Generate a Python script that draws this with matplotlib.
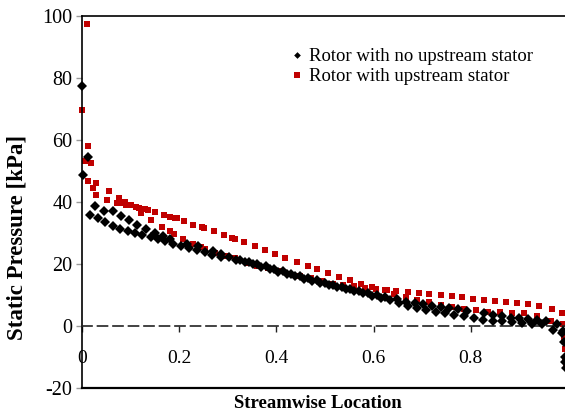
import matplotlib
matplotlib.use("Agg")
import matplotlib.pyplot as plt
from matplotlib.lines import Line2D

plt.rcParams['font.family'] = ['Liberation Serif', 'DejaVu Serif']

# ---- data ----
no_stator_x = [0.000, 0.012, 0.002, 0.016, 0.026, 0.033, 0.046, 0.048, 0.063, 0.063,
               0.080, 0.078, 0.097, 0.095, 0.110, 0.114, 0.124, 0.132, 0.141, 0.150,
               0.156, 0.166, 0.171, 0.182, 0.188, 0.203, 0.216, 0.220, 0.236, 0.239,
               0.253, 0.269, 0.267, 0.285, 0.286, 0.302,
               0.317, 0.335, 0.351, 0.369, 0.387, 0.404, 0.422, 0.438, 0.457, 0.473,
               0.490, 0.508, 0.525, 0.543, 0.560, 0.579, 0.597, 0.615, 0.634,
               0.326, 0.343, 0.360, 0.378, 0.396, 0.413, 0.431, 0.448, 0.466, 0.483,
               0.500, 0.517, 0.534, 0.552, 0.570, 0.588, 0.606, 0.624,
               0.649, 0.667, 0.685, 0.702, 0.721, 0.738, 0.756, 0.774, 0.792, 0.827,
               0.845, 0.864, 0.882, 0.900, 0.918, 0.936, 0.954, 0.977, 0.990,
               0.652, 0.671, 0.690, 0.708, 0.728, 0.747, 0.766, 0.786, 0.807, 0.826,
               0.845, 0.864, 0.885, 0.905, 0.926, 0.947, 0.970,
               0.988, 0.992, 0.993, 0.994, 0.995]
no_stator_y = [77.4, 54.4, 48.7, 35.8, 38.7, 34.7, 37.2, 33.5, 37.0, 32.2,
               35.5, 31.2, 34.2, 30.6, 30.1, 32.7, 29.3, 31.3, 28.6, 30.0,
               28.0, 29.0, 27.4, 28.0, 26.5, 25.8, 26.5, 25.2, 24.6, 25.8,
               23.9, 24.3, 22.9, 23.1, 22.3, 22.2,
               21.3, 20.6, 19.9, 19.1, 18.3, 17.4, 16.7, 16.0, 15.2, 14.6,
               13.8, 13.2, 12.5, 11.9, 11.2, 10.5, 9.8, 9.1, 8.4,
               21.4, 20.7, 20.0, 19.2, 18.4, 17.6, 16.9, 16.2, 15.4, 14.7,
               14.0, 13.3, 12.7, 12.0, 11.4, 10.7, 10.1, 9.5,
               8.6, 7.8, 7.5, 7.0, 6.5, 6.0, 5.7, 5.4, 4.8, 4.1,
               3.5, 3.1, 2.7, 2.5, 2.2, 1.9, 1.6, 0.6, -1.6,
               7.3, 6.5, 5.8, 5.1, 4.5, 4.1, 3.4, 3.1, 2.5, 2.0,
               1.6, 1.5, 1.3, 1.1, 0.7, 0.6, -1.3,
               -2.2, -5.0, -10.1, -11.5, -13.5]

stator_x = [0.000, 0.010, 0.012, 0.006, 0.019, 0.012, 0.029, 0.022, 0.029, 0.056,
            0.052, 0.077, 0.072, 0.080, 0.089, 0.091, 0.100, 0.111, 0.118, 0.121,
            0.130, 0.136, 0.150, 0.143, 0.169, 0.165, 0.182, 0.191, 0.195, 0.182,
            0.189, 0.209, 0.208, 0.229, 0.228, 0.247, 0.252, 0.245, 0.254, 0.271,
            0.273, 0.292, 0.294, 0.309, 0.315, 0.315,
            0.334, 0.355, 0.377, 0.397, 0.418, 0.442, 0.464, 0.484, 0.506, 0.529,
            0.552, 0.575, 0.597, 0.624,
            0.339, 0.361, 0.383, 0.405, 0.427, 0.449, 0.471, 0.493, 0.516, 0.538,
            0.560, 0.582, 0.604, 0.627,
            0.647, 0.642, 0.670, 0.666, 0.693, 0.690, 0.715, 0.714, 0.738, 0.738,
            0.761, 0.761, 0.782, 0.786, 0.805, 0.811, 0.827, 0.836, 0.850, 0.860,
            0.872, 0.885, 0.895, 0.910, 0.918, 0.937, 0.940, 0.967, 0.966, 0.987,
            0.990, 0.990, 0.992, 0.993, 0.994, 0.995]
stator_y = [69.7, 97.3, 58.1, 53.2, 52.5, 46.9, 46.2, 44.4, 42.2, 43.5,
            40.5, 41.3, 39.8, 39.6, 40.0, 39.1, 38.9, 38.5, 38.2, 36.4,
            37.8, 37.4, 36.8, 34.1, 35.9, 32.0, 35.2, 34.8, 34.7, 30.6,
            29.8, 33.8, 28.1, 32.7, 26.4, 31.9, 31.5, 25.4, 24.8, 30.6,
            23.6, 29.4, 22.6, 28.5, 28.0, 21.8,
            27.0, 25.7, 24.4, 23.2, 21.9, 20.7, 19.5, 18.3, 17.0, 15.7,
            14.7, 13.4, 12.5, 11.5,
            20.4, 19.5, 18.6, 17.7, 16.9, 16.0, 15.4, 14.5, 13.6, 13.1,
            12.8, 12.2, 11.8, 11.5,
            11.3, 10.3, 10.9, 9.3, 10.5, 8.3, 10.2, 7.6, 9.9, 6.8,
            9.7, 6.1, 9.3, 5.4, 8.8, 5.2, 8.5, 4.6, 8.2, 4.4,
            7.6, 4.2, 7.3, 4.1, 7.1, 3.3, 6.6, 5.4, 1.6, 4.1,
            0.6, -2.0, -3.5, -7.5, -10.4, -12.0]

labels = ["Rotor with no upstream stator", "Rotor with upstream stator"]
x_ticks = [0, 0.2, 0.4, 0.6, 0.8]
x_tick_labels = ["0", "0.2", "0.4", "0.6", "0.8"]
y_ticks = [-20, 0, 20, 40, 60, 80, 100]

# ---- figure ----
W, H = 565, 413
fig = plt.figure(figsize=(W / 100, H / 100), dpi=100)
ax = fig.add_axes([82 / W, 25 / H, (568 - 82) / W, 372 / H])
ax.set_xlim(0, 1)
ax.set_ylim(-20, 100)

red = '#C00000'
ax.plot(no_stator_x, no_stator_y, linestyle='none', marker='D', markersize=4.6,
        color='black', markeredgewidth=0, clip_on=False, zorder=3)
ax.plot(stator_x, stator_y, linestyle='none', marker='s', markersize=4.6,
        color=red, markeredgewidth=0, clip_on=False, zorder=2)

# spines
for s in ['left', 'top']:
    ax.spines[s].set_linewidth(1.2)
    ax.spines[s].set_color('black')
ax.spines['right'].set_visible(False)
ax.spines['bottom'].set_position(('data', 0))
ax.spines['bottom'].set_linestyle((0, (6.0, 3.3)))
ax.spines['bottom'].set_linewidth(1.2)
ax.spines['bottom'].set_color('#222222')
ax.axhline(-20, color='black', lw=1.6, clip_on=False, zorder=4)

ax.set_yticks(y_ticks)
ax.set_yticklabels([str(v) for v in y_ticks])
ax.set_xticks(x_ticks)
ax.set_xticklabels(x_tick_labels)
ax.tick_params(axis='y', direction='out', length=4, width=1, color='#999999',
               pad=3, labelsize=14.5)
ax.tick_params(axis='x', direction='out', length=4, width=1, color='#222222',
               pad=13, labelsize=14)

fig.text(318 / W, 1 - 404 / H, "Streamwise Location", ha='center', va='center',
         fontsize=13.5, fontweight='bold')
fig.text(17 / W, 1 - 237 / H, "Static Pressure [kPa]", ha='center', va='center',
         rotation=90, fontsize=16.5, fontweight='bold')

handles = [Line2D([], [], linestyle='none', marker='D', markersize=3.4, color='black', markeredgewidth=0),
           Line2D([], [], linestyle='none', marker='s', markersize=3.9, color=red, markeredgewidth=0)]
ax.legend(handles, labels, loc='upper left', bbox_to_anchor=((291 - 82) / 486, (388 - 48) / 372),
          frameon=False, handlelength=0.6, handletextpad=0.35, borderaxespad=0,
          borderpad=0, labelspacing=0.16, fontsize=13.5, numpoints=1)

fig.savefig("out.png", dpi=100)
